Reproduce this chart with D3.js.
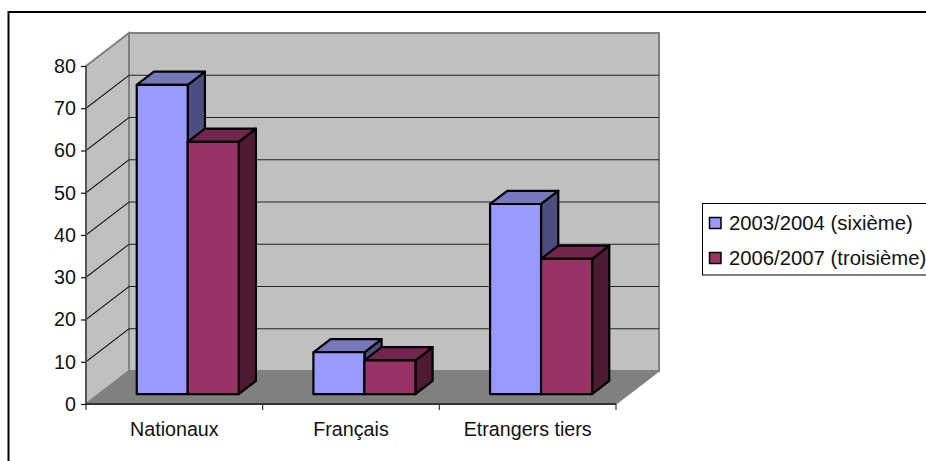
<!DOCTYPE html>
<html>
<head>
<meta charset="utf-8">
<script src="https://cdn.jsdelivr.net/npm/d3@7"></script>
<style>
    html, body { margin: 0; padding: 0; background: #fff; overflow: hidden; }
    text { font-family: "Liberation Sans", Arial, sans-serif; fill: #111; }
</style>
</head>
<body>
<script>
const categories = ['Nationaux', 'Français', 'Etrangers tiers'];
const seriesNames = ['2003/2004 (sixième)', '2006/2007 (troisième)'];
const sixieme = [73.2, 9.9, 45];
const troisieme = [59.7, 8, 32];
const yTicks = [0, 10, 20, 30, 40, 50, 60, 70, 80];

const fills = [
    { front: '#9999ff', top: '#7777bb', side: '#4d4d80' },
    { front: '#993366', top: '#73264d', side: '#4d1933' }
];

const width = 926, height = 461;
const depthX = 43, depthY = -33;

const svg = d3.select('body').append('svg')
    .attr('width', width)
    .attr('height', height)
    .style('display', 'block');

// Outer frame, runs off the right and bottom of the picture
svg.append('rect')
    .attr('x', 8.5).attr('y', 12)
    .attr('width', 930).attr('height', 470)
    .attr('fill', 'none')
    .attr('stroke', '#000')
    .attr('stroke-width', 2);

const x = d3.scaleBand().domain(categories).range([86, 616]);
const y = d3.scaleLinear().domain([0, 80]).range([404, 66]);

// Project a point of the plot: t = 0 is the front edge, t = 1 the back wall
const px = (xVal, t) => xVal + t * depthX;
const py = (yVal, t) => y(yVal) + t * depthY;
const poly = pts => pts.map(p => p.join(',')).join(' ');

const plot = svg.append('g');
const [x0, x1] = x.range();

// Walls and floor
plot.append('polygon')
    .attr('points', poly([[px(x0, 1), py(80, 1)], [px(x1, 1), py(80, 1)], [px(x1, 1), py(0, 1)], [px(x0, 1), py(0, 1)]]))
    .attr('fill', '#c0c0c0').attr('stroke', '#808080').attr('stroke-width', 2);
plot.append('polygon')
    .attr('points', poly([[px(x0, 0), py(80, 0)], [px(x0, 1), py(80, 1)], [px(x0, 1), py(0, 1)], [px(x0, 0), py(0, 0)]]))
    .attr('fill', '#c0c0c0').attr('stroke', '#808080').attr('stroke-width', 2);
plot.append('polygon')
    .attr('points', poly([[px(x0, 0), py(0, 0)], [px(x0, 1), py(0, 1)], [px(x1, 1), py(0, 1)], [px(x1, 0), py(0, 0)]]))
    .attr('fill', '#808080');

// Gridlines on both walls
const gridTicks = yTicks.filter(v => v > 0 && v < 80);
gridTicks.forEach(v => {
    plot.append('polyline')
        .attr('points', poly([[px(x0, 0), py(v, 0)], [px(x0, 1), py(v, 1)], [px(x1, 1), py(v, 1)]]))
        .attr('fill', 'none')
        .attr('stroke', '#222')
        .attr('stroke-width', 1.2);
});

// Bars
const barT0 = 0.3, barT1 = 0.7;
const barWidth = 51;
[sixieme, troisieme].forEach((values, s) => {
    const col = fills[s];
    const bars = plot.append('g')
        .attr('stroke', '#000')
        .attr('stroke-width', 2.2)
        .attr('stroke-linejoin', 'round');
    categories.forEach((cat, i) => {
        const left = x(cat) + (x.bandwidth() - 2 * barWidth) / 2 + s * barWidth + 0.5;
        const right = left + barWidth;
        const v = values[i];
        bars.append('polygon')
            .attr('fill', col.side)
            .attr('points', poly([[px(right, barT0), py(v, barT0)], [px(right, barT1), py(v, barT1)], [px(right, barT1), py(0, barT1)], [px(right, barT0), py(0, barT0)]]));
        bars.append('polygon')
            .attr('fill', col.top)
            .attr('points', poly([[px(left, barT0), py(v, barT0)], [px(left, barT1), py(v, barT1)], [px(right, barT1), py(v, barT1)], [px(right, barT0), py(v, barT0)]]));
        bars.append('polygon')
            .attr('fill', col.front)
            .attr('points', poly([[px(left, barT0), py(v, barT0)], [px(right, barT0), py(v, barT0)], [px(right, barT0), py(0, barT0)], [px(left, barT0), py(0, barT0)]]));
    });
});

// Right edge of the floor
plot.append('line')
    .attr('x1', px(x1, 0)).attr('y1', py(0, 0))
    .attr('x2', px(x1, 1)).attr('y2', py(0, 1))
    .attr('stroke', '#808080').attr('stroke-width', 1.5);

// Axes
const fontSize = 19.7;
const legendFontSize = 20.3;
const yAxis = svg.append('g')
    .attr('transform', `translate(${x0},0)`)
    .call(d3.axisLeft(y).tickValues(yTicks).tickSize(5).tickPadding(5));
yAxis.selectAll('text').style('font-size', fontSize + 'px');
yAxis.selectAll('line').attr('stroke', '#111').attr('stroke-width', 1.2);
yAxis.select('.domain').attr('stroke', '#555').attr('stroke-width', 2).attr('d', `M0,${y(80)}V${y(0)}`);

const xAxis = svg.append('g')
    .attr('transform', `translate(0,${y(0)})`)
    .call(d3.axisBottom(x).tickSize(0).tickPadding(18));
xAxis.selectAll('text').style('font-size', fontSize + 'px');
xAxis.select('.domain').attr('stroke', '#333').attr('stroke-width', 2).attr('d', `M${x0},0H${x1}`);

// x ticks sit between the categories, not under them
const edges = categories.map(c => x(c)).concat(x1);
xAxis.selectAll('.edge')
    .data(edges)
    .join('line')
    .attr('class', 'edge')
    .attr('x1', d => d).attr('x2', d => d)
    .attr('y1', 0).attr('y2', 6)
    .attr('stroke', '#333')
    .attr('stroke-width', 1.2);

// Legend
const legend = svg.append('g').attr('transform', 'translate(702.5,203.5)');
legend.append('rect')
    .attr('width', 240).attr('height', 71.5)
    .attr('fill', '#fff')
    .attr('stroke', '#000')
    .attr('stroke-width', 1);
seriesNames.forEach((name, i) => {
    const row = legend.append('g').attr('transform', `translate(0,${i * 35})`);
    row.append('rect')
        .attr('x', 7).attr('y', 14)
        .attr('width', 11.5).attr('height', 11)
        .attr('fill', fills[i].front)
        .attr('stroke', '#000')
        .attr('stroke-width', 1.5);
    row.append('text')
        .attr('x', 26.5).attr('y', 26.5)
        .style('font-size', legendFontSize + 'px')
        .text(name);
});
</script>
</body>
</html>
